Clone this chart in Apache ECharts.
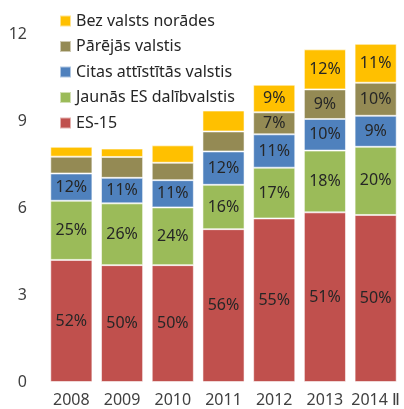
<!DOCTYPE html>
<html>
<head>
<meta charset="utf-8">
<script src="https://cdn.jsdelivr.net/npm/echarts@6/dist/echarts.min.js"></script>
<style>
  html, body { margin: 0; padding: 0; background: #fff; }
  #main { width: 404px; height: 409px; }
</style>
</head>
<body>
<div id="main"></div>
<script>
const years = ['2008', '2009', '2010', '2011', '2012', '2013', '2014 Ⅱ'];

// values (stacked, bottom to top)
const es15 = [4.21, 4.03, 4.03, 5.27, 5.64, 5.85, 5.76];
const newEu = [2.04, 2.13, 1.99, 1.53, 1.75, 2.13, 2.35];
const otherDev = [0.94, 0.88, 0.94, 1.15, 1.15, 1.09, 1.07];
const others = [0.58, 0.72, 0.60, 0.69, 0.76, 1.02, 1.14];
const noCountry = [0.34, 0.29, 0.60, 0.72, 0.95, 1.38, 1.34];

// percentage labels shown in the segments (null = no label)
const es15Pct = [52, 50, 50, 56, 55, 51, 50];
const newEuPct = [25, 26, 24, 16, 17, 18, 20];
const otherDevPct = [12, 11, 11, 12, 11, 10, 9];
const othersPct = [null, null, null, null, 7, 9, 10];
const noCountryPct = [null, null, null, null, 9, 12, 11];

const names = ['ES-15', 'Jaunās ES dalībvalstis', 'Citas attīstītās valstis', 'Pārējās valstis', 'Bez valsts norādes'];
const colors = ['#C0504D', '#9BBB59', '#4F81BD', '#948A54', '#FFC000'];

const font = '"Noto Sans", "Open Sans", sans-serif';

function makeSeries(name, values, pct, color) {
    return {
        name: name,
        type: 'bar',
        stack: 'total',
        barCategoryGap: '17%',
        data: values,
        itemStyle: { color: color, borderColor: 'rgba(255,255,255,0.55)', borderWidth: 1 },
        label: {
            show: true,
            position: 'inside',
            color: '#262626',
            fontFamily: font,
            fontSize: 16,
            formatter(p) {
                const v = pct[p.dataIndex];
                return v == null ? '' : v + '%';
            }
        },
        emphasis: { disabled: true }
    };
}

let myChart = echarts.init(document.getElementById('main'));
myChart.setOption({
    animation: false,
    color: colors,
    grid: { left: 46, right: 3, top: 34, bottom: 27 },
    legend: {
        data: names.slice().reverse(),
        orient: 'vertical',
        left: 54,
        top: 8,
        itemWidth: 11,
        itemHeight: 11,
        itemGap: 9.5,
        icon: 'rect',
        textStyle: { fontFamily: font, fontSize: 16, color: '#262626' }
    },
    xAxis: {
        type: 'category',
        data: years,
        axisLine: { show: false },
        axisTick: { show: false },
        axisLabel: { color: '#404040', fontFamily: font, fontSize: 16, margin: 10, interval: 0 }
    },
    yAxis: {
        type: 'value',
        min: 0,
        max: 12,
        interval: 3,
        splitLine: { show: false },
        axisLine: { show: false },
        axisLabel: { color: '#404040', fontFamily: font, fontSize: 16, margin: 19 }
    },
    series: [
        makeSeries(names[0], es15, es15Pct, colors[0]),
        makeSeries(names[1], newEu, newEuPct, colors[1]),
        makeSeries(names[2], otherDev, otherDevPct, colors[2]),
        makeSeries(names[3], others, othersPct, colors[3]),
        makeSeries(names[4], noCountry, noCountryPct, colors[4])
    ]
});
</script>
</body>
</html>
